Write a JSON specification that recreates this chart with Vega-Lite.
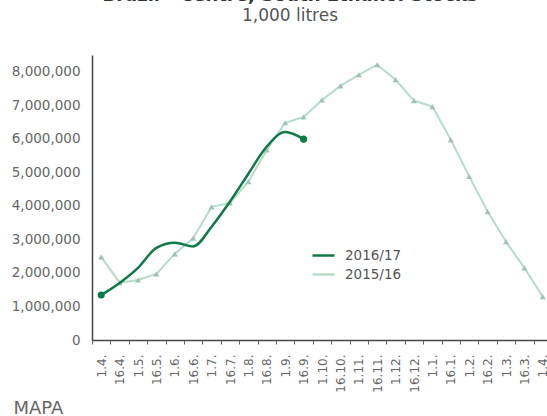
{
  "$schema": "https://vega.github.io/schema/vega-lite/v6.json",
  "autosize": {"type": "none"},
  "width": 460,
  "height": 285,
  "padding": {"left": 92, "top": 55, "right": 0, "bottom": 76},
  "background": "white",
  "config": {
    "font": "DejaVu Sans",
    "view": {"stroke": null},
    "axis": {"grid": false, "domainColor": "#444444", "domainWidth": 1.5, "labelColor": "#666666", "labelFont": "DejaVu Sans"}
  },
  "title": {
    "text": "Brazil - Centre, South Ethanol Stocks",
    "subtitle": "1,000 litres",
    "anchor": "middle",
    "dx": -32,
    "fontSize": 18,
    "fontWeight": "bold",
    "color": "#333333",
    "subtitleFontSize": 17,
    "subtitleColor": "#555555",
    "subtitlePadding": 3,
    "offset": 31
  },
  "data": {
    "values": [
      {"period": "1.4.", "season": "2015/16", "stock": 2480000},
      {"period": "16.4.", "season": "2015/16", "stock": 1710000},
      {"period": "1.5.", "season": "2015/16", "stock": 1790000},
      {"period": "16.5.", "season": "2015/16", "stock": 1970000},
      {"period": "1.6.", "season": "2015/16", "stock": 2570000},
      {"period": "16.6.", "season": "2015/16", "stock": 3040000},
      {"period": "1.7.", "season": "2015/16", "stock": 3970000},
      {"period": "16.7.", "season": "2015/16", "stock": 4090000},
      {"period": "1.8.", "season": "2015/16", "stock": 4720000},
      {"period": "16.8.", "season": "2015/16", "stock": 5670000},
      {"period": "1.9.", "season": "2015/16", "stock": 6480000},
      {"period": "16.9.", "season": "2015/16", "stock": 6650000},
      {"period": "1.10.", "season": "2015/16", "stock": 7160000},
      {"period": "16.10.", "season": "2015/16", "stock": 7580000},
      {"period": "1.11.", "season": "2015/16", "stock": 7910000},
      {"period": "16.11.", "season": "2015/16", "stock": 8210000},
      {"period": "1.12.", "season": "2015/16", "stock": 7760000},
      {"period": "16.12.", "season": "2015/16", "stock": 7140000},
      {"period": "1.1.", "season": "2015/16", "stock": 6960000},
      {"period": "16.1.", "season": "2015/16", "stock": 5970000},
      {"period": "1.2.", "season": "2015/16", "stock": 4880000},
      {"period": "16.2.", "season": "2015/16", "stock": 3830000},
      {"period": "1.3.", "season": "2015/16", "stock": 2930000},
      {"period": "16.3.", "season": "2015/16", "stock": 2150000},
      {"period": "1.4. ", "season": "2015/16", "stock": 1290000},
      {"period": "1.4.", "season": "2016/17", "stock": 1340000},
      {"period": "16.4.", "season": "2016/17", "stock": 1700000},
      {"period": "1.5.", "season": "2016/17", "stock": 2150000},
      {"period": "16.5.", "season": "2016/17", "stock": 2750000},
      {"period": "1.6.", "season": "2016/17", "stock": 2900000},
      {"period": "16.6.", "season": "2016/17", "stock": 2790000},
      {"period": "1.7.", "season": "2016/17", "stock": 3380000},
      {"period": "16.7.", "season": "2016/17", "stock": 4130000},
      {"period": "1.8.", "season": "2016/17", "stock": 4960000},
      {"period": "16.8.", "season": "2016/17", "stock": 5770000},
      {"period": "1.9.", "season": "2016/17", "stock": 6200000},
      {"period": "16.9.", "season": "2016/17", "stock": 5990000}
    ]
  },
  "encoding": {
    "x": {
      "field": "period",
      "type": "nominal",
      "sort": null,
      "scale": {"paddingInner": 0, "paddingOuter": 0},
      "axis": {
        "title": "MAPA",
        "titleFontSize": 18,
        "titleFontWeight": "normal",
        "titleColor": "#666666",
        "titleAnchor": null,
        "titleAlign": "left",
        "titleBaseline": "alphabetic",
        "titleX": -79,
        "titleY": 73,
        "labelAngle": -90,
        "labelAlign": "right",
        "labelBaseline": "middle",
        "labelFontSize": 12,
        "labelPadding": 10,
        "tickSize": 4,
        "tickColor": "#666666",
        "tickBand": "extent",
        "labelExpr": "datum.value ? trim(datum.value) : ''"
      }
    },
    "y": {
      "field": "stock",
      "type": "quantitative",
      "scale": {"domain": [0, 8500000], "nice": false},
      "axis": {
        "title": null,
        "values": [0, 1000000, 2000000, 3000000, 4000000, 5000000, 6000000, 7000000, 8000000],
        "format": ",d",
        "ticks": false,
        "labelPadding": 12,
        "labelFontSize": 13.5
      }
    }
  },
  "layer": [
    {
      "transform": [{"filter": "datum.season == '2015/16'"}],
      "mark": {"type": "line", "color": "#b6dcc8", "strokeWidth": 2},
      "encoding": {
        "color": {
          "field": "season",
          "type": "nominal",
          "scale": {"domain": ["2016/17", "2015/16"], "range": ["#0f7a47", "#b6dcc8"]},
          "legend": {
            "title": null,
            "orient": "none",
            "legendX": 219,
            "legendY": 188,
            "symbolType": "stroke",
            "symbolSize": 484,
            "symbolStrokeWidth": 2.5,
            "labelFontSize": 13.5,
            "labelColor": "#555555",
            "labelOffset": 9,
            "rowPadding": 0
          }
        }
      }
    },
    {
      "transform": [{"filter": "datum.season == '2015/16'"}],
      "mark": {"type": "point", "shape": "triangle-up", "filled": true, "size": 35, "color": "#9fc2b1", "opacity": 1}
    },
    {
      "transform": [{"filter": "datum.season == '2016/17'"}],
      "mark": {"type": "line", "color": "#0f7a47", "strokeWidth": 2.5, "interpolate": "monotone"}
    },
    {
      "transform": [{"filter": "datum.season == '2016/17' && (datum.period == '1.4.' || datum.period == '16.9.')"}],
      "mark": {"type": "point", "shape": "circle", "filled": true, "size": 50, "color": "#0f7a47", "opacity": 1}
    }
  ]
}
